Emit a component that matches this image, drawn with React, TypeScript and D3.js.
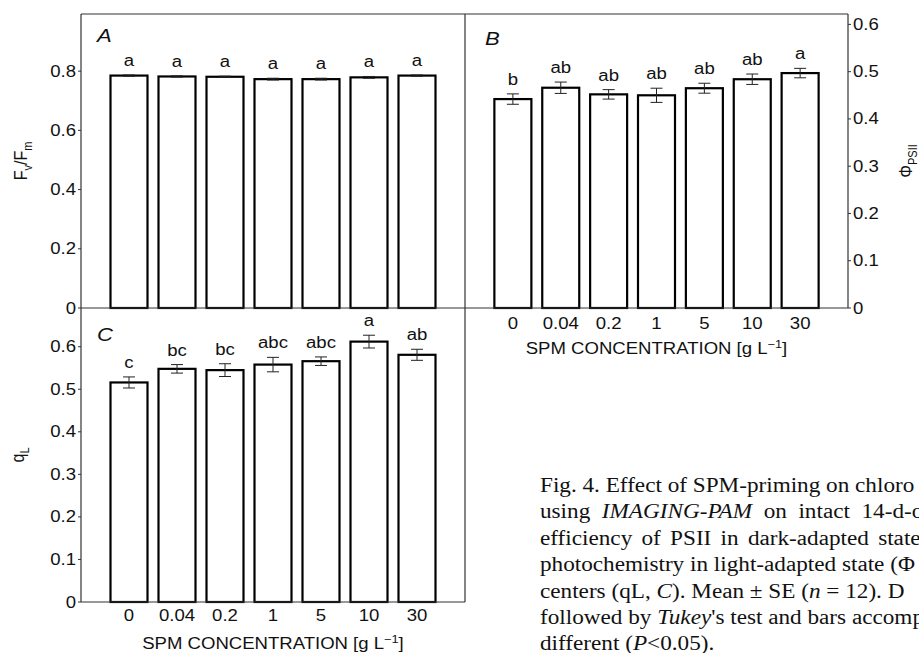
import React from 'react';
import * as d3 from 'd3';

// SPM concentrations (g L-1)
const categories = ['0', '0.04', '0.2', '1', '5', '10', '30'];

// A: Fv/Fm
const fvfmMean = [0.785, 0.782, 0.781, 0.773, 0.773, 0.779, 0.785];
const fvfmSE = [0.002, 0.002, 0.002, 0.003, 0.003, 0.003, 0.002];
const fvfmLetters = ['a', 'a', 'a', 'a', 'a', 'a', 'a'];
const fvfmTicks = [0, 0.2, 0.4, 0.6, 0.8];

// B: PhiPSII
const phiMean = [0.442, 0.466, 0.452, 0.45, 0.465, 0.484, 0.497];
const phiSE = [0.011, 0.012, 0.01, 0.015, 0.0105, 0.011, 0.01];
const phiLetters = ['b', 'ab', 'ab', 'ab', 'ab', 'ab', 'a'];
const phiTicks = [0, 0.1, 0.2, 0.3, 0.4, 0.5, 0.6];

// C: qL
const qlMean = [0.516, 0.548, 0.545, 0.558, 0.566, 0.612, 0.581];
const qlSE = [0.013, 0.01, 0.015, 0.017, 0.01, 0.015, 0.013];
const qlLetters = ['c', 'bc', 'bc', 'abc', 'abc', 'a', 'ab'];
const qlTicks = [0, 0.1, 0.2, 0.3, 0.4, 0.5, 0.6];

// caption lines (cut by the right edge, as in the source page); [text, italic]
const captionLines = [
  [['Fig. 4. Effect of SPM-priming on chloro', false]],
  [['using ', false], ['IMAGING-PAM', true], [' on intact 14-d-o', false]],
  [['efficiency of PSII in dark-adapted state', false]],
  [['photochemistry in light-adapted state (Φ', false]],
  [['centers (qL, ', false], ['C', true], ['). Mean ± SE (', false], ['n', true], [' = 12). D', false]],
  [['followed by ', false], ['Tukey', true], ["'s test and bars accomp", false]],
  [['different (', false], ['P', true], ['<0.05).', false]],
] as [string, boolean][][];
const captionWordSpacing = [0, 5, 3, 0, 0, 0, 0];

// the source figure is stretched horizontally
const SX = 1.16;
const SANS = 'Arial, "Liberation Sans", Helvetica, sans-serif';
const SERIF = '"Times New Roman", "Liberation Serif", serif';

const T = ({ x, y, anchor = 'start', size = 16, italic = false, rotate = false, children, ...rest }: any) => (
  <text
    transform={`translate(${x},${y}) scale(${SX},1)${rotate ? ' rotate(-90)' : ''}`}
    textAnchor={anchor}
    fontSize={size}
    fontStyle={italic ? 'italic' : 'normal'}
    fontFamily={SANS}
    fill="#111"
    {...rest}
  >
    {children}
  </text>
);

const Bars = ({ x, y, mean, se, letters, base }: any) => {
  const bw = 37;
  return (
    <g>
      {mean.map((m: number, i: number) => {
        const cx = x(categories[i]);
        return (
          <g key={i}>
            <rect x={cx - bw / 2} y={y(m)} width={bw} height={base - y(m)}
              fill="#fff" stroke="#000" strokeWidth={2.2} />
            <line x1={cx} x2={cx} y1={y(m - se[i])} y2={y(m + se[i])} stroke="#222" strokeWidth={1} />
            <line x1={cx - 6} x2={cx + 6} y1={y(m + se[i])} y2={y(m + se[i])} stroke="#222" strokeWidth={1} />
            <line x1={cx - 6} x2={cx + 6} y1={y(m - se[i])} y2={y(m - se[i])} stroke="#222" strokeWidth={1} />
            <T x={cx} y={y(m + se[i]) - 9} anchor="middle" size={16}>{letters[i]}</T>
          </g>
        );
      })}
    </g>
  );
};

const XLabels = ({ x, y }: any) => (
  <g>
    {categories.map((c) => (
      <T key={c} x={x(c)} y={y} anchor="middle">{c}</T>
    ))}
  </g>
);

const XTitle = ({ cx, y }: any) => (
  <T x={cx} y={y} anchor="middle">
    SPM CONCENTRATION [g L<tspan fontSize={11} dy={-6}>−1</tspan><tspan dy={6}>]</tspan>
  </T>
);

export default function App() {
  const L = 81, M = 465, R = 848;
  const top = 14, mid = 308, bot = 602;

  const xA = d3.scalePoint<string>().domain(categories).range([L, M]).padding(1);
  const xB = d3.scalePoint<string>().domain(categories).range([M, R]).padding(1);
  const yA = d3.scaleLinear().domain([0, 0.993]).range([mid, top]);
  const yB = d3.scaleLinear().domain([0, 0.622]).range([mid, top]);
  const yC = d3.scaleLinear().domain([0, 0.691]).range([bot, mid]);

  const frame = '#333';

  return (
    <svg width={919} height={653} style={{ position: 'absolute', left: 0, top: 0, background: '#fff' }}>
      <rect width={919} height={653} fill="#fff" />

      {/* bars */}
      <Bars x={xA} y={yA} mean={fvfmMean} se={fvfmSE} letters={fvfmLetters} base={mid} />
      <Bars x={xB} y={yB} mean={phiMean} se={phiSE} letters={phiLetters} base={mid} />
      <Bars x={xA} y={yC} mean={qlMean} se={qlSE} letters={qlLetters} base={bot} />

      {/* frames */}
      <g stroke={frame} strokeWidth={1.2} fill="none">
        <line x1={L} x2={R} y1={top} y2={top} />
        <line x1={L} x2={R} y1={mid} y2={mid} />
        <line x1={L} x2={M} y1={bot} y2={bot} />
        <line x1={L} x2={L} y1={top} y2={bot} />
        <line x1={M} x2={M} y1={top} y2={bot} />
        <line x1={R} x2={R} y1={top} y2={mid} />
      </g>

      {/* y axis A */}
      {fvfmTicks.map((t) => (
        <g key={'a' + t}>
          <line x1={L - 3} x2={L} y1={yA(t)} y2={yA(t)} stroke={frame} />
          <T x={L - 5} y={yA(t) + 5.5} anchor="end">{t === 0 ? '0' : t.toFixed(1)}</T>
        </g>
      ))}
      {/* y axis B (right) */}
      {phiTicks.map((t) => (
        <g key={'b' + t}>
          <line x1={R} x2={R + 3} y1={yB(t)} y2={yB(t)} stroke={frame} />
          <T x={R + 5} y={yB(t) + 5.5} anchor="start">{t === 0 ? '0' : t.toFixed(1)}</T>
        </g>
      ))}
      {/* y axis C */}
      {qlTicks.map((t) => (
        <g key={'c' + t}>
          <line x1={L - 3} x2={L} y1={yC(t)} y2={yC(t)} stroke={frame} />
          <T x={L - 5} y={yC(t) + 5.5} anchor="end">{t === 0 ? '0' : t.toFixed(1)}</T>
        </g>
      ))}

      {/* axis titles */}
      <T x={27} y={(top + mid) / 2} anchor="middle" rotate>
        F<tspan fontSize={11} dy={4}>v</tspan><tspan dy={-4}>/F</tspan><tspan fontSize={11} dy={4}>m</tspan>
      </T>
      <T x={24} y={(mid + bot) / 2} anchor="middle" rotate>
        q<tspan fontSize={11} dy={4}>L</tspan>
      </T>
      <T x={912} y={(top + mid) / 2} anchor="middle" rotate>
        Φ<tspan fontSize={11} dy={4}>PSII</tspan>
      </T>

      <XLabels x={xB} y={329} />
      <XLabels x={xA} y={621} />
      <XTitle cx={(M + R) / 2} y={354} />
      <XTitle cx={(L + M) / 2} y={649} />

      {/* panel letters */}
      <T x={97} y={42} size={19} italic>A</T>
      <T x={485} y={45} size={19} italic>B</T>
      <T x={97} y={341} size={19} italic>C</T>

      {/* caption */}
      {captionLines.map((parts, i) => (
        <text key={i} transform={`translate(540,${492 + i * 26.4}) scale(${SX},1)`}
          fontFamily={SERIF} fontSize={20} fill="#111" wordSpacing={captionWordSpacing[i]}>
          {parts.map(([s, it], j) => (
            <tspan key={j} fontStyle={it ? 'italic' : 'normal'}>{s}</tspan>
          ))}
        </text>
      ))}
    </svg>
  );
}
